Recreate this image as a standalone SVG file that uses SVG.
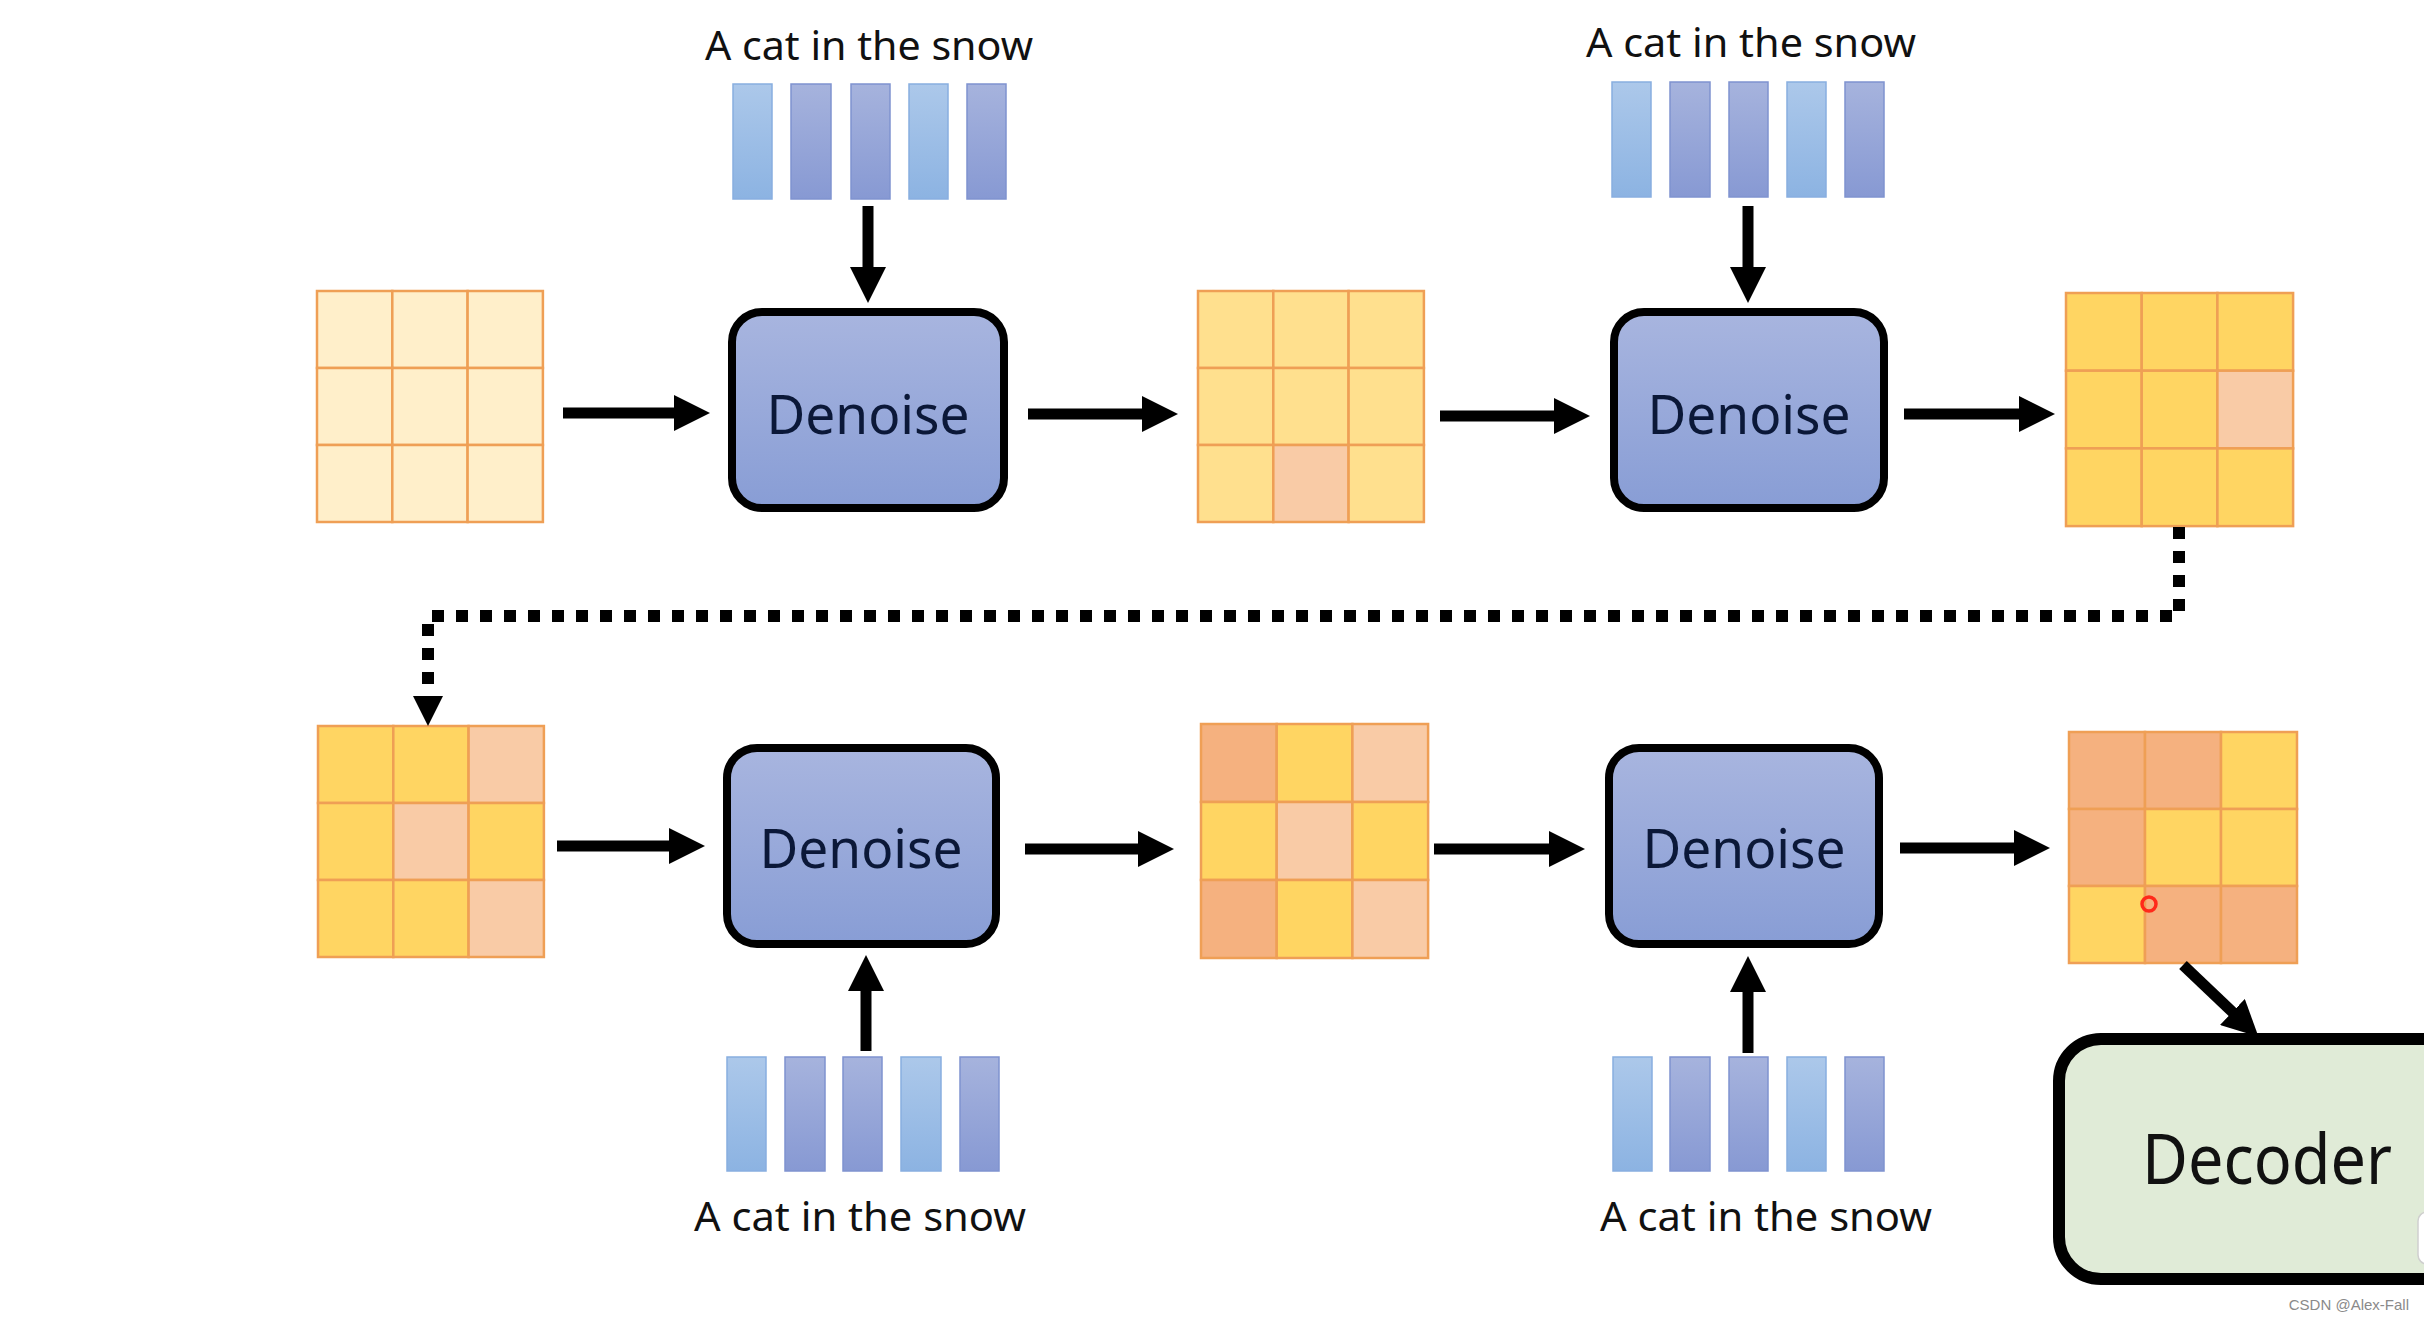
<svg xmlns="http://www.w3.org/2000/svg" width="2424" height="1320" viewBox="0 0 2424 1320">
<style>
.lbl{font-family:"Noto Sans","Open Sans","Liberation Sans",sans-serif;font-size:40px;fill:#111;text-anchor:middle}
.dn{font-family:"Noto Sans","Open Sans","Liberation Sans",sans-serif;font-size:55px;fill:#0b1838;text-anchor:middle}
.box{fill:url(#gBox);stroke:#000;stroke-width:8}
.c{stroke:#ef9f55;stroke-width:2.5}
.cr{fill:#ffefca}
.yl{fill:#ffe08e}
.y{fill:#ffd562}
.p{fill:#f9cba6}
.o{fill:#f5b17f}
.bl{fill:url(#gLight);stroke:#88aee0;stroke-width:1.5}
.bp{fill:url(#gPeri);stroke:#7f93cf;stroke-width:1.5}
.ar{stroke:#000;stroke-width:11;fill:none;marker-end:url(#ah)}
</style>
<defs>
<linearGradient id="gBox" x1="0" y1="0" x2="0" y2="1"><stop offset="0" stop-color="#a8b5df"/><stop offset="1" stop-color="#889dd5"/></linearGradient>
<linearGradient id="gLight" x1="0" y1="0" x2="0" y2="1"><stop offset="0" stop-color="#acc8ea"/><stop offset="1" stop-color="#8cb3e2"/></linearGradient>
<linearGradient id="gPeri" x1="0" y1="0" x2="0" y2="1"><stop offset="0" stop-color="#a6b3dd"/><stop offset="1" stop-color="#8799d3"/></linearGradient>
<marker id="ah" viewBox="0 0 36 36" markerWidth="36" markerHeight="36" markerUnits="userSpaceOnUse" refX="16" refY="18" orient="auto"><path d="M0,0 L36,18 L0,36 z" fill="#000"/></marker>
<marker id="ah2" viewBox="0 0 36 30" markerWidth="36" markerHeight="30" markerUnits="userSpaceOnUse" refX="8" refY="15" orient="auto"><path d="M0,0 L30,15 L0,30 z" fill="#000"/></marker>
</defs>
<rect width="2424" height="1320" fill="#fff"/>

<!-- latent grids -->
<g id="grid1" class="c">
<rect class="cr" x="317" y="291" width="75.3" height="77"/><rect class="cr" x="392.3" y="291" width="75.3" height="77"/><rect class="cr" x="467.6" y="291" width="75.3" height="77"/>
<rect class="cr" x="317" y="368" width="75.3" height="77"/><rect class="cr" x="392.3" y="368" width="75.3" height="77"/><rect class="cr" x="467.6" y="368" width="75.3" height="77"/>
<rect class="cr" x="317" y="445" width="75.3" height="77"/><rect class="cr" x="392.3" y="445" width="75.3" height="77"/><rect class="cr" x="467.6" y="445" width="75.3" height="77"/>
</g>
<g id="grid2" class="c">
<rect class="yl" x="1198" y="291" width="75.3" height="77"/><rect class="yl" x="1273.3" y="291" width="75.3" height="77"/><rect class="yl" x="1348.6" y="291" width="75.3" height="77"/>
<rect class="yl" x="1198" y="368" width="75.3" height="77"/><rect class="yl" x="1273.3" y="368" width="75.3" height="77"/><rect class="yl" x="1348.6" y="368" width="75.3" height="77"/>
<rect class="yl" x="1198" y="445" width="75.3" height="77"/><rect class="p" x="1273.3" y="445" width="75.3" height="77"/><rect class="yl" x="1348.6" y="445" width="75.3" height="77"/>
</g>
<g id="grid3" class="c">
<rect class="y" x="2066" y="293" width="75.7" height="77.7"/><rect class="y" x="2141.7" y="293" width="75.7" height="77.7"/><rect class="y" x="2217.4" y="293" width="75.7" height="77.7"/>
<rect class="y" x="2066" y="370.7" width="75.7" height="77.7"/><rect class="y" x="2141.7" y="370.7" width="75.7" height="77.7"/><rect class="p" x="2217.4" y="370.7" width="75.7" height="77.7"/>
<rect class="y" x="2066" y="448.4" width="75.7" height="77.7"/><rect class="y" x="2141.7" y="448.4" width="75.7" height="77.7"/><rect class="y" x="2217.4" y="448.4" width="75.7" height="77.7"/>
</g>
<g id="grid4" class="c">
<rect class="y" x="318" y="726" width="75.3" height="77"/><rect class="y" x="393.3" y="726" width="75.3" height="77"/><rect class="p" x="468.6" y="726" width="75.3" height="77"/>
<rect class="y" x="318" y="803" width="75.3" height="77"/><rect class="p" x="393.3" y="803" width="75.3" height="77"/><rect class="y" x="468.6" y="803" width="75.3" height="77"/>
<rect class="y" x="318" y="880" width="75.3" height="77"/><rect class="y" x="393.3" y="880" width="75.3" height="77"/><rect class="p" x="468.6" y="880" width="75.3" height="77"/>
</g>
<g id="grid5" class="c">
<rect class="o" x="1201" y="724" width="75.7" height="78"/><rect class="y" x="1276.7" y="724" width="75.7" height="78"/><rect class="p" x="1352.4" y="724" width="75.7" height="78"/>
<rect class="y" x="1201" y="802" width="75.7" height="78"/><rect class="p" x="1276.7" y="802" width="75.7" height="78"/><rect class="y" x="1352.4" y="802" width="75.7" height="78"/>
<rect class="o" x="1201" y="880" width="75.7" height="78"/><rect class="y" x="1276.7" y="880" width="75.7" height="78"/><rect class="p" x="1352.4" y="880" width="75.7" height="78"/>
</g>
<g id="grid6" class="c">
<rect class="o" x="2069" y="732" width="76" height="77"/><rect class="o" x="2145" y="732" width="76" height="77"/><rect class="y" x="2221" y="732" width="76" height="77"/>
<rect class="o" x="2069" y="809" width="76" height="77"/><rect class="y" x="2145" y="809" width="76" height="77"/><rect class="y" x="2221" y="809" width="76" height="77"/>
<rect class="y" x="2069" y="886" width="76" height="77"/><rect class="o" x="2145" y="886" width="76" height="77"/><rect class="o" x="2221" y="886" width="76" height="77"/>
<circle cx="2149" cy="904" r="7" fill="none" stroke="#ff2a1a" stroke-width="3.5"/>
</g>

<!-- text embeddings -->
<g id="prompt1">
<text class="lbl" x="869" y="60" textLength="328" lengthAdjust="spacingAndGlyphs">A cat in the snow</text>
<rect class="bl" x="733" y="84" width="39" height="115"/><rect class="bp" x="791" y="84" width="40" height="115"/><rect class="bp" x="851" y="84" width="39" height="115"/><rect class="bl" x="909" y="84" width="39" height="115"/><rect class="bp" x="967" y="84" width="39" height="115"/>
</g>
<g id="prompt2">
<text class="lbl" x="1751" y="57" textLength="330" lengthAdjust="spacingAndGlyphs">A cat in the snow</text>
<rect class="bl" x="1612" y="82" width="39" height="115"/><rect class="bp" x="1670" y="82" width="40" height="115"/><rect class="bp" x="1729" y="82" width="39" height="115"/><rect class="bl" x="1787" y="82" width="39" height="115"/><rect class="bp" x="1845" y="82" width="39" height="115"/>
</g>
<g id="prompt3">
<rect class="bl" x="727" y="1057" width="39" height="114"/><rect class="bp" x="785" y="1057" width="40" height="114"/><rect class="bp" x="843" y="1057" width="39" height="114"/><rect class="bl" x="901" y="1057" width="40" height="114"/><rect class="bp" x="960" y="1057" width="39" height="114"/>
<text class="lbl" x="860" y="1231" textLength="332" lengthAdjust="spacingAndGlyphs">A cat in the snow</text>
</g>
<g id="prompt4">
<rect class="bl" x="1613" y="1057" width="39" height="114"/><rect class="bp" x="1670" y="1057" width="40" height="114"/><rect class="bp" x="1729" y="1057" width="39" height="114"/><rect class="bl" x="1787" y="1057" width="39" height="114"/><rect class="bp" x="1845" y="1057" width="39" height="114"/>
<text class="lbl" x="1766" y="1231" textLength="332" lengthAdjust="spacingAndGlyphs">A cat in the snow</text>
</g>

<!-- denoise blocks -->
<g id="denoise1"><rect class="box" x="732" y="312" width="272" height="196" rx="30"/><text class="dn" x="868" y="434" textLength="203" lengthAdjust="spacingAndGlyphs">Denoise</text></g>
<g id="denoise2"><rect class="box" x="1614" y="312" width="270" height="196" rx="30"/><text class="dn" x="1749" y="434" textLength="203" lengthAdjust="spacingAndGlyphs">Denoise</text></g>
<g id="denoise3"><rect class="box" x="727" y="748" width="269" height="196" rx="30"/><text class="dn" x="861" y="868" textLength="203" lengthAdjust="spacingAndGlyphs">Denoise</text></g>
<g id="denoise4"><rect class="box" x="1609" y="748" width="270" height="196" rx="30"/><text class="dn" x="1744" y="868" textLength="203" lengthAdjust="spacingAndGlyphs">Denoise</text></g>

<!-- decoder -->
<g id="decoder">
<rect x="2059" y="1039" width="420" height="240" rx="42" fill="#e0ebd7" stroke="#000" stroke-width="12"/>
<text x="2267" y="1184" font-family="'Noto Sans','Open Sans','Liberation Sans',sans-serif" font-size="70" fill="#111" text-anchor="middle" textLength="250" lengthAdjust="spacingAndGlyphs">Decoder</text>
<rect x="2418" y="1212" width="22" height="52" rx="9" fill="#fff" stroke="#cfcfcf" stroke-width="1.5"/>
</g>

<!-- connectors -->
<g id="connectors">
<line class="ar" x1="563" y1="413" x2="690" y2="413"/>
<line class="ar" x1="1028" y1="414" x2="1158" y2="414"/>
<line class="ar" x1="1440" y1="416" x2="1570" y2="416"/>
<line class="ar" x1="1904" y1="414" x2="2035" y2="414"/>
<line class="ar" x1="557" y1="846" x2="685" y2="846"/>
<line class="ar" x1="1025" y1="849" x2="1154" y2="849"/>
<line class="ar" x1="1434" y1="849" x2="1565" y2="849"/>
<line class="ar" x1="1900" y1="848" x2="2030" y2="848"/>
<line class="ar" x1="868" y1="206" x2="868" y2="283"/>
<line class="ar" x1="1748" y1="206" x2="1748" y2="283"/>
<line class="ar" x1="866" y1="1051" x2="866" y2="975"/>
<line class="ar" x1="1748" y1="1053" x2="1748" y2="976"/>
<line class="ar" x1="2183" y1="965" x2="2244" y2="1023"/>
<path d="M2179,527 V616 H428 V704" fill="none" stroke="#000" stroke-width="12" stroke-dasharray="12 12" marker-end="url(#ah2)"/>
</g>

<text x="2409" y="1310" font-family="'Liberation Sans',Arial,sans-serif" font-size="15" fill="#8a8a8a" text-anchor="end">CSDN @Alex-Fall</text>
</svg>
